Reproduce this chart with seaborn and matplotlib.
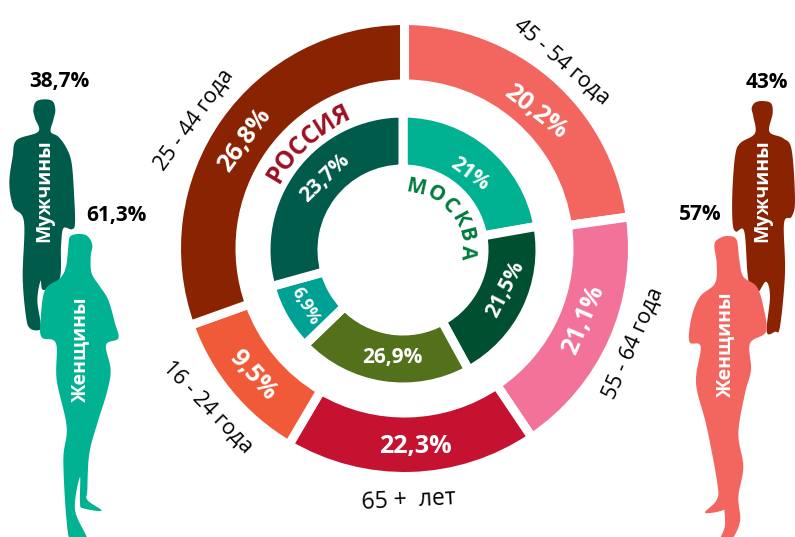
import numpy as np
import matplotlib
matplotlib.use("Agg")
import matplotlib.pyplot as plt
from matplotlib.font_manager import FontProperties
from matplotlib.textpath import TextPath
import seaborn as sns

sns.set_theme(style="white")
plt.rcParams['font.family'] = ['Open Sans', 'DejaVu Sans']

# Data
outer_groups = ["45 - 54 года", "55 - 64 года", "65 +  лет", "16 - 24 года", "25 - 44 года"]
outer_labels = ["20,2%", "21,1%", "22,3%", "9,5%", "26,8%"]
outer_arcs = [82, 64, 64.5, 39.8, 109.7]    # arc sizes as drawn in the picture
inner_labels = ["21%", "21,5%", "26,9%", "6,9%", "23,7%"]
inner_arcs = [80, 71.3, 74.7, 28.5, 105.5]  # arc sizes as drawn in the picture
outer_colors = ["#F3665F", "#F27299", "#C41230", "#F15A38", "#8A2302"]
inner_colors = ["#00B192", "#004F30", "#53711B", "#00A195", "#005B4A"]

W, H = 795, 537
fig = plt.figure(figsize=(W / 100, H / 100), dpi=100)
ax = fig.add_axes([0, 0, 1, 1])


def Y(y):
    return H - y


def smooth(pts, n=8):
    """Closed Catmull-Rom curve through outline points of a silhouette."""
    p = np.array(pts, float)
    out = []
    for i in range(len(p)):
        p0, p1, p2, p3 = p[i - 1], p[i], p[(i + 1) % len(p)], p[(i + 2) % len(p)]
        for t in np.linspace(0, 1, n, endpoint=False):
            out.append(0.5 * (2 * p1 + (p2 - p0) * t + (2 * p0 - 5 * p1 + 4 * p2 - p3) * t ** 2
                              + (3 * p1 - p0 - 3 * p2 + p3) * t ** 3))
    return np.array(out)


def figure(pts, x0, color, z):
    p = smooth(pts)
    ax.fill(p[:, 0] / 3 + x0, Y(p[:, 1] / 3 + 60), color=color, lw=0, zorder=z)


# Rings
ax.pie(outer_arcs, colors=sns.color_palette(outer_colors), startangle=90, counterclock=False,
       center=(404.5, Y(248.5)), radius=228, normalize=True,
       wedgeprops=dict(width=63.5, edgecolor="white", linewidth=6.5))
ax.pie(inner_arcs, colors=sns.color_palette(inner_colors), startangle=90, counterclock=False,
       center=(403, Y(250)), radius=137, normalize=True,
       wedgeprops=dict(width=56, edgecolor="white", linewidth=6.5))
ax.set_xlim(0, W)
ax.set_ylim(0, H)
ax.set_aspect("equal")
ax.axis("off")

# Silhouettes (decoration, traced in zoomed-crop coordinates)
man_l = [(133,118),(158,124),(166,150),(160,180),(152,215),(175,230),(200,265),(215,310),(222,400),(225,490),(215,508),
         (190,505),(183,560),(178,660),(130,690),(122,662),(112,720),(122,790),(118,810),(90,805),(78,770),(68,650),(72,485),
         (40,440),(28,370),(38,290),(50,240),(115,215),(105,175),(100,150),(108,125)]
woman_l = [(235,522),(262,528),(277,555),(272,590),(275,640),(300,680),(325,720),(345,790),(355,835),(318,855),(332,930),
           (320,1000),(295,1080),(268,1180),(262,1290),(262,1320),(305,1352),(250,1345),(240,1330),(240,1250),(225,1350),(264,1445),
           (215,1445),(200,1385),(190,1200),(200,1100),(170,960),(168,850),(125,832),(122,780),(135,690),(180,655),(198,620),
           (205,560),(210,530)]
man_r = [(307,123),(333,130),(338,160),(328,215),(370,235),(395,270),(405,420),(395,470),(372,490),(375,640),(360,800),
         (345,815),(320,815),(330,710),(318,665),(290,700),(265,660),(253,515),(228,515),(218,490),(217,400),(225,290),(240,250),
         (285,220),(280,170),(275,145),(285,128)]
woman_r = [(205,528),(230,540),(238,600),(250,650),(290,680),(310,740),(318,815),(270,850),(273,930),(255,1000),(235,1120),
           (250,1220),(235,1310),(240,1385),(210,1445),(178,1445),(195,1395),(190,1310),(200,1325),(190,1350),(135,1358),(170,1320),
           (172,1270),(140,1100),(108,970),(122,860),(88,845),(95,770),(120,710),(165,670),(170,610),(163,555),(178,535)]
figure(man_l, 0, "#005B4A", 3)
figure(woman_l, 0, "#00B192", 4)
figure(man_r, 660, "#8A2302", 3)
figure(woman_r, 660, "#F3665F", 4)


def T(x, y, s, size, rot=0, color="black", weight="normal", z=6):
    ax.text(x, Y(y), s, fontsize=size, rotation=rot, color=color, fontweight=weight,
            ha="center", va="center", rotation_mode="anchor", zorder=z)


# Ring labels
outer_pos = [(535, 112, -38), (584, 320, 67), (415, 446, 0), (253, 375, -48), (245, 140, 54)]
inner_pos = [(470, 174, -36), (505, 289, 63), (392, 357, 0), (306, 306, -60), (325, 178, 44)]
inner_sizes = [15, 15, 15, 12.5, 15]
group_pos = [(562, 62, -41), (633, 343, 66), (409, 501, 3), (208, 407, -46), (194, 120, 54)]
for s, (x, y, r) in zip(outer_labels, outer_pos):
    T(x, y, s, 18, r, "white", "bold")
for s, (x, y, r), fs in zip(inner_labels, inner_pos, inner_sizes):
    T(x, y, s, fs, r, "white", "bold")
for s, (x, y, r) in zip(outer_groups, group_pos):
    T(x, y, s, 16.5 if "лет" in s else 15.5, r)


def arc_text(s, cx, cy, r, a0, a1, size, color):
    fp = FontProperties(family="Open Sans", weight="bold")
    widths = [TextPath((0, 0), ch, size=size, prop=fp).get_extents().width for ch in s]
    gaps = np.cumsum([0] + [(widths[i] + widths[i + 1]) / 2 for i in range(len(s) - 1)])
    for ch, f in zip(s, gaps / gaps[-1]):
        a = a0 + (a1 - a0) * f
        t = np.radians(a)
        T(cx + r * np.sin(t), cy - r * np.cos(t), ch, size, -a, color, "bold")


arc_text("РОССИЯ", 403, 250, 147, -59, -25, 18, "#9B1022")
arc_text("МОСКВА", 403, 250, 64, 12, 92, 15, "#007A3D")

# Side labels
T(59, 82, "38,7%", 15, weight="bold")
T(116, 215, "61,3%", 15, weight="bold")
T(767, 82, "43%", 15, weight="bold")
T(700, 215, "57%", 15, weight="bold")
T(44, 191, "Мужчины", 14, 90, "white", "bold")
T(80, 349, "Женщины", 14, 90, "white", "bold")
T(762, 191, "Мужчины", 14, 90, "white", "bold")
T(725, 344, "Женщины", 14, 90, "white", "bold")

fig.savefig("out.png", dpi=100, facecolor="white")
